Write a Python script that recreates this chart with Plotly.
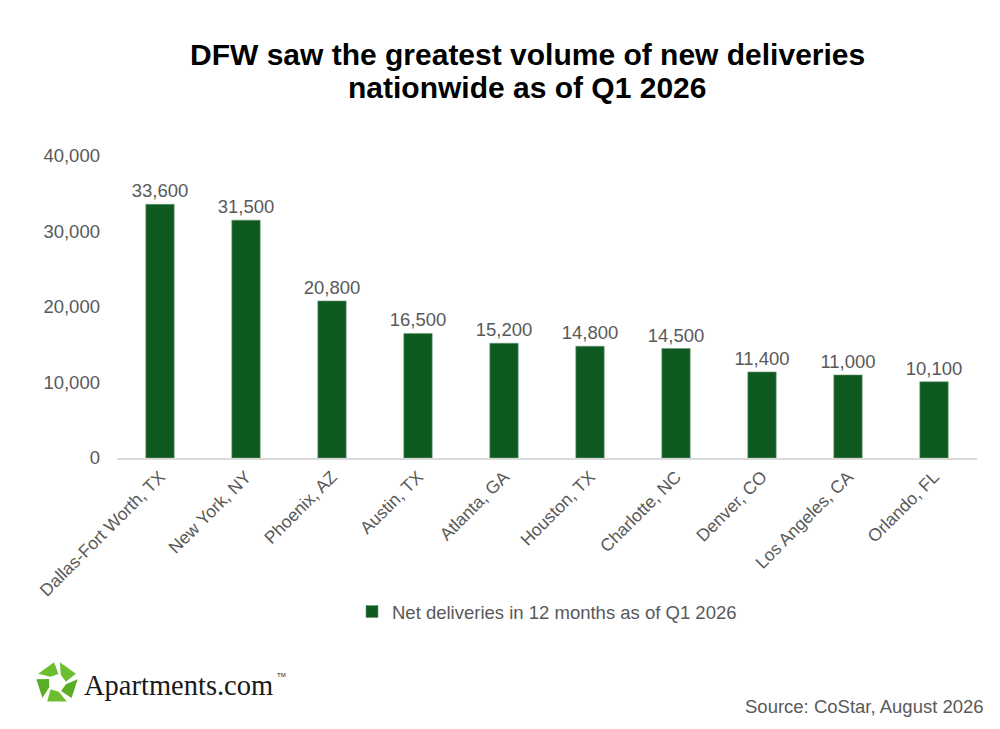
import math
import plotly.graph_objects as go

# Data
metros = ["Dallas-Fort Worth, TX", "New York, NY", "Phoenix, AZ", "Austin, TX",
          "Atlanta, GA", "Houston, TX", "Charlotte, NC", "Denver, CO",
          "Los Angeles, CA", "Orlando, FL"]
deliveries = [33600, 31500, 20800, 16500, 15200, 14800, 14500, 11400, 11000, 10100]
y_ticks = [0, 10000, 20000, 30000, 40000]

series_name = "Net deliveries in 12 months as of Q1 2026"
title_lines = ["DFW saw the greatest volume of new deliveries",
               "nationwide as of Q1 2026"]
source = "Source: CoStar, August 2026"

GREEN = "#0F5A21"
GREY = "#595959"
FONT = "Liberation Sans, Arial, sans-serif"

W, H = 1000, 729
# plot area as seen on screen (page is drawn 8px in from the corner)
OFF = 8
L, R, T, B = 117, 23, 156, 271

fig = go.Figure()
fig.add_trace(go.Bar(
    x=metros, y=deliveries, name=series_name,
    marker=dict(color=GREEN, line=dict(color="#6E9A76", width=0.6)),
    width=0.33,
    text=[f"{v:,}" for v in deliveries],
    textposition="outside", cliponaxis=False, constraintext="none",
    textfont=dict(size=18.5, color=GREY, family=FONT),
    showlegend=True,
))


# screen pixel -> paper coords
def px(x, y):
    return (x - L) / (W - L - R), (H - B - y) / (H - T - B)


# logo: five green pieces arranged round a pentagon, plus the wordmark
cx, cy = 57, 683
shapes = []
for k in range(5):
    a0 = math.radians(-90 + 72 * k + 8)
    a1 = math.radians(-90 + 72 * k + 64)
    r_in, r_out = 9, 21
    pts = [(cx + r_out * math.cos(a0), cy + r_out * math.sin(a0)),
           (cx + r_out * math.cos(a1), cy + r_out * math.sin(a1)),
           (cx + r_in * math.cos(a1 + 0.3), cy + r_in * math.sin(a1 + 0.3)),
           (cx + r_in * math.cos(a0 + 0.3), cy + r_in * math.sin(a0 + 0.3))]
    path = "M " + " L ".join(f"{px(x, y)[0]:.4f},{px(x, y)[1]:.4f}" for x, y in pts) + " Z"
    shapes.append(dict(type="path", xref="paper", yref="paper", path=path,
                       fillcolor="#6DBE2F" if k % 2 == 0 else "#5AAE26",
                       line=dict(width=0)))

annotations = []
for i, line in enumerate(title_lines):
    ax, ay = px(527, 55 + 33 * i)
    annotations.append(dict(text=f"<b>{line}</b>", xref="paper", yref="paper",
                            x=ax, y=ay, xanchor="center", yanchor="middle",
                            showarrow=False,
                            font=dict(family=FONT, size=30, color="#000000")))

lx, ly = px(82, 685)
tx, ty = px(275, 675)
sx, sy = px(986, 706)
annotations += [
    dict(text="Apartments.com", xref="paper", yref="paper",
         x=lx, y=ly, xanchor="left", yanchor="middle", showarrow=False,
         font=dict(family="Liberation Serif, DejaVu Serif, serif", size=28.5,
                   color="#1A1A1A")),
    dict(text="TM", xref="paper", yref="paper",
         x=tx, y=ty, xanchor="left", yanchor="middle", showarrow=False,
         font=dict(family=FONT, size=6, color="#1A1A1A")),
    dict(text=source, xref="paper", yref="paper", x=sx, y=sy,
         xanchor="right", yanchor="middle", showarrow=False,
         font=dict(family=FONT, size=18.5, color=GREY)),
]

fig.update_layout(
    width=W, height=H,
    margin=dict(l=L - OFF, r=R + OFF, t=T - OFF, b=B + OFF),
    paper_bgcolor="white", plot_bgcolor="white",
    font=dict(family=FONT, color=GREY, size=18),
    bargap=0.6,
    xaxis=dict(showline=True, linecolor="#D9D9D9", linewidth=1.5,
               showgrid=False, tickangle=-45, ticks="",
               tickfont=dict(size=17.5, color=GREY, family=FONT)),
    yaxis=dict(range=[0, 40000], tickvals=y_ticks, tickformat=",",
               showgrid=False, zeroline=False, showline=False, ticks="",
               ticklabelstandoff=16,
               tickfont=dict(size=18.5, color=GREY, family=FONT)),
    legend=dict(orientation="h", x=0.5, xref="paper", xanchor="center",
                y=-0.51, yanchor="middle",
                font=dict(size=18.5, color=GREY, family=FONT)),
    shapes=shapes,
    annotations=annotations,
)

fig.write_html("out.html")
